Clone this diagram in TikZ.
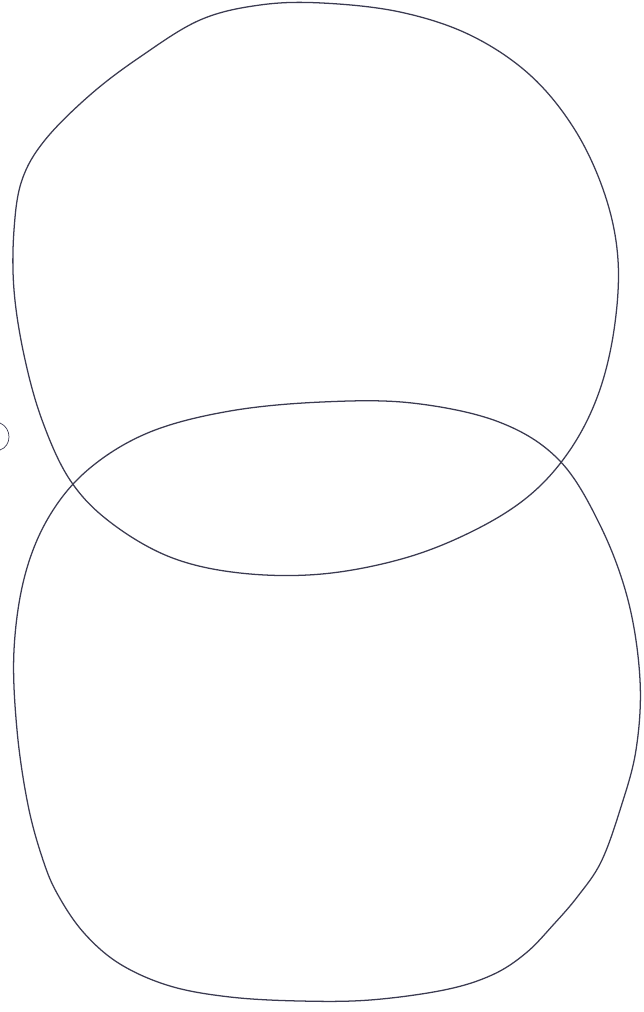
\documentclass[tikz,border=0pt]{standalone}
\definecolor{inkc}{RGB}{58,58,80}
\begin{document}
\begin{tikzpicture}[x=0.025cm,y=-0.025cm,
  pen/.style={draw=inkc,line width=0.9pt,line join=round}]
\useasboundingbox (0,0) rectangle (644,1012);
\draw[pen] plot[smooth cycle,tension=0.6] coordinates {
 (322,3) (400,12) (470,35) (530,75) (575,130) (605,195) (618,260) (614,330)
 (598,395) (570,450) (530,495) (475,530) (405,558) (322,574) (240,573) (170,557)
 (110,522) (70,480) (42,420) (24,355) (14,290) (14,230) (22,180) (45,140)
 (90,95) (140,57) (200,20) (260,5)};
\draw[pen] plot[smooth cycle,tension=0.6] coordinates {
 (322,402) (412,403) (499,422) (559,460) (600,525) (628,600) (640,680) (636,750)
 (620,810) (601,862) (578,896) (554,924) (526,953) (492,975) (444,990) (370,1000)
 (300,1001) (230,997) (170,986) (120,964) (84,933) (58,895) (43,860) (28,805)
 (17,730) (14,650) (25,575) (50,515) (90,468) (150,432) (230,411)};
\draw[pen,line width=0.5pt] (0,423) .. controls (12,428) and (12,446) .. (0,450);
\end{tikzpicture}
\end{document}
